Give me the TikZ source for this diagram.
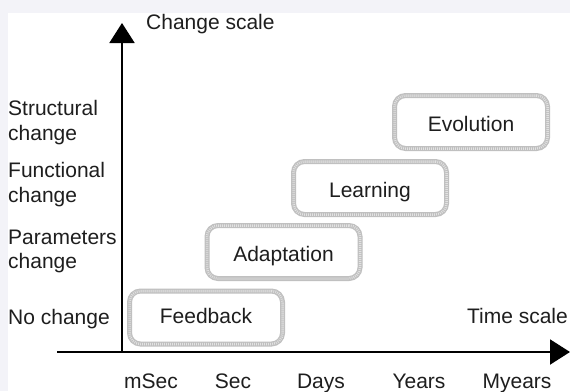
\documentclass[tikz,border=0pt]{standalone}
\usepackage{fontspec}
\setmainfont{Liberation Sans}
\usetikzlibrary{arrows.meta}
\definecolor{bgl}{HTML}{F3F3F8}
\definecolor{boxg}{HTML}{C0C0C0}
\definecolor{boxl}{HTML}{E2E2E2}
\definecolor{txt}{HTML}{1E1E1E}
\begin{document}
\begin{tikzpicture}[x=1pt,y=-1pt,
  font=\fontsize{21}{25}\selectfont,
  lbl/.style={text=txt, inner sep=0pt},
  stagebox/.style={draw=boxg, line width=5pt, rounded corners=11pt,
    minimum width=153pt, minimum height=53pt, text=txt, inner sep=0pt,
    text height=18pt, text depth=0pt,
    postaction={draw=boxl, line width=2.5pt, dash pattern=on 0.8pt off 1.2pt}},
  axis/.style={line width=2pt, draw=black, -{Triangle[length=20pt,width=25pt]}}]
\path[fill=bgl] (0,0) rectangle (570,391);
\path[fill=white] (8,13) rectangle (570,391);
\useasboundingbox (0,0) rectangle (570,391);

% boxes
\node[stagebox, text height=15pt, text depth=4pt] (fb) at (206,317.5) {Feedback};
\node[stagebox] (ad) at (283.5,252) {Adaptation};
\node[stagebox] (le) at (370,188) {Learning};
\node[stagebox] (ev) at (471,122) {Evolution};

% axes
\coordinate (o) at (122,352);
\coordinate (ytip) at (122,23);
\coordinate (xstart) at (57,352);
\coordinate (xtip) at (570,352);
\draw[axis] (o) -- (ytip);
\draw[axis] (xstart) -- (xtip);

% axis titles
\node[lbl, anchor=base west] (cs) at (146,29) {Change scale};
\node[lbl, anchor=base east] (ts) at (568,323) {Time scale};

% change levels
\node[lbl, anchor=base west] (s1) at (8,115) {Structural};
\node[lbl, anchor=base west] (s2) at (8,140) {change};
\node[lbl, anchor=base west] (f1) at (8,177) {Functional};
\node[lbl, anchor=base west] (f2) at (8,202) {change};
\node[lbl, anchor=base west] (p1) at (8,244) {Parameters};
\node[lbl, anchor=base west] (p2) at (8,268) {change};
\node[lbl, anchor=base west] (nc) at (8,324) {No change};

% time ticks
\node[lbl, anchor=base] (t1) at (151,388) {mSec};
\node[lbl, anchor=base] (t2) at (233,388) {Sec};
\node[lbl, anchor=base] (t3) at (321,388) {Days};
\node[lbl, anchor=base] (t4) at (419,388) {Years};
\node[lbl, anchor=base] (t5) at (517,388) {Myears};
\end{tikzpicture}
\end{document}
